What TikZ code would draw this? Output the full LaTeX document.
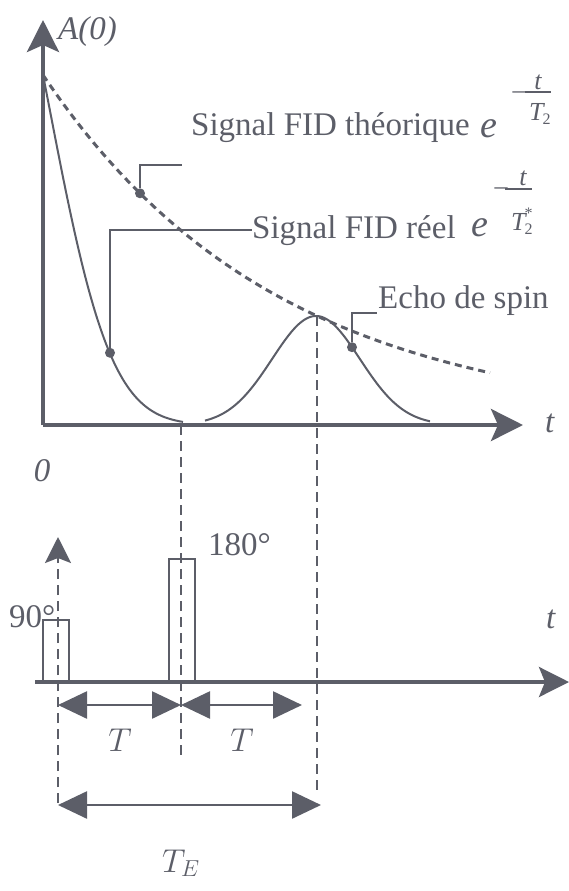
\RequirePackage{fix-cm}
\documentclass[tikz,border=0pt]{standalone}
\usepackage{fontspec}
\setmainfont{Liberation Serif}
\usepackage{amsmath}
\usetikzlibrary{arrows.meta, positioning}
\definecolor{ink}{RGB}{92,94,104}

\begin{document}
\begin{tikzpicture}[x=1pt, y=-1pt,
      axis/.style={draw=ink, line width=4pt, -{Stealth[length=32pt, width=32pt, inset=7pt]}},
      fid/.style={draw=ink, line width=2pt},
      theo/.style={draw=ink, line width=3pt, dash pattern=on 7pt off 5pt},
      guide/.style={draw=ink, line width=2.5pt, dash pattern=on 10pt off 6pt},
      lead/.style={draw=ink, line width=2pt},
      pulse/.style={draw=ink, line width=2pt},
      dim/.style={draw=ink, line width=2.5pt, {Triangle[length=29pt, width=27pt]}-{Triangle[length=29pt, width=27pt]}},
      dot/.style={circle, fill=ink, inner sep=0pt, minimum size=10pt},
      lbl/.style={text=ink, inner sep=0pt, font=\fontsize{33}{38}\selectfont},
      ital/.style={text=ink, inner sep=0pt, font=\fontsize{33}{38}\selectfont\itshape},
      sml/.style={text=ink, inner sep=0pt, font=\fontsize{26}{30}\selectfont\itshape}
    ]
    \useasboundingbox (0,0) rectangle (569,891);

    % Signal
    \coordinate (orig) at (43,425);
    \draw[axis] (orig) -- (43,20);
    \draw[axis] (orig) -- (523,425);
    \node[ital, anchor=base west] (amp) at (58,40) {A(0)};
    \node[ital, anchor=base west] (tup) at (545,432) {t};
    \node[ital] (zero) at (42,471) {0};

    \draw[theo] plot[domain=0:447, samples=90] ({43+\x}, {425-350*exp(-\x/235)});
    \draw[fid] plot[domain=0:140, samples=90] ({43+\x}, {425-350*exp(-0.01452*\x-0.000135*\x*\x)});
    \draw[fid] plot[domain=205:430, samples=90] (\x, {425-109*exp(-(\x-316)*(\x-316)/3844)});

    % Legendes
    \node[dot] (thpt) at (140,193.3) {};
    \node[dot] (fidpt) at (110,352.8) {};
    \node[dot] (echopt) at (352,347.2) {};
    \coordinate (lead1) at (182,165);
    \draw[lead] (thpt) |- (lead1);

    \node[lbl, anchor=base west] (theolbl) at (191,135) {Signal FID théorique};
    \node[text=ink, inner sep=0pt, font=\fontsize{38}{40}\selectfont\itshape, anchor=base west] (e1) at (480,137) {e};
    \node[sml, anchor=center] (m1) at (519,95) {–};
    \draw[ink, line width=1.2pt] (525,92) -- (551,92);
    \node[sml, anchor=base] (n1) at (538,89) {t};
    \node[sml, anchor=base west] (d1) at (529,120) {T\kern-1pt\raisebox{-4pt}{\fontsize{16}{18}\selectfont\upshape 2}};

    \node[lbl, anchor=base west] (reellbl) at (252,238) {Signal FID réel};
    \draw[lead] (fidpt) |- (reellbl.west);
    \node[text=ink, inner sep=0pt, font=\fontsize{38}{40}\selectfont\itshape, anchor=base west] (e2) at (471,236) {e};
    \node[sml, anchor=center] (m2) at (501,191) {–};
    \draw[ink, line width=1.2pt] (505,189) -- (532,189);
    \node[sml, anchor=base] (n2) at (523,185) {t};
    \node[sml, anchor=base west] (d2) at (511,230) {T\kern-1pt\raisebox{-4pt}{\fontsize{16}{18}\selectfont\upshape 2}\kern-8pt\raisebox{12pt}{\fontsize{16}{18}\selectfont\upshape *}};

    \node[lbl, anchor=base west] (echolbl) at (378,308) {Echo de spin};
    \coordinate (lead3) at (377,313);
    \draw[lead] (echopt) |- (lead3);

    % Impulsions
    \draw[axis, line width=3.5pt, -{Stealth[length=30pt, width=30pt, inset=6pt]}] (35,682) -- (569,682);
    \node[ital, anchor=base west] (tlow) at (546,628) {t};
    \draw[pulse] (43,682) rectangle (69,620);
    \draw[pulse] (169,682) rectangle (195,559);
    \node[lbl, anchor=base west] (p90) at (9,627) {90°};
    \node[lbl, anchor=base west] (p180) at (208,555) {180°};

    % Reperes
    \draw[guide, -{Stealth[length=26pt, width=26pt, inset=5pt]}] (58,803) -- (58,537);
    \draw[guide] (181,425) -- (181,755);
    \draw[guide] (317,316) -- (317,792);

    \coordinate (a90) at (58,705);
    \coordinate (a180) at (181,705);
    \coordinate (aT) at (302,705);
    \coordinate (b90) at (58,805);
    \coordinate (bE) at (321,805);
    \draw[dim] (a90) -- (a180);
    \draw[dim] (a180) -- (aT);
    \draw[dim] (b90) -- (bE);
    \node[lbl] (T1) at (120,740) {$T$};
    \node[lbl] (T2) at (242,740) {$T$};
    \node[lbl, anchor=base west] (TE) at (162,872) {$T_E$};
\end{tikzpicture}
\end{document}
